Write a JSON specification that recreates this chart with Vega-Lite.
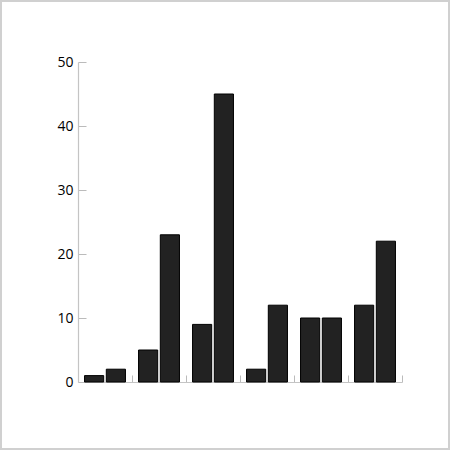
{
  "$schema": "https://vega.github.io/schema/vega-lite/v6.json",
  "width": 448,
  "height": 448,
  "padding": 1,
  "autosize": {"type": "none"},
  "background": "white",
  "data": {
    "values": [
      {"group": "1", "series": "a", "value": 1},
      {"group": "1", "series": "b", "value": 2},
      {"group": "2", "series": "a", "value": 5},
      {"group": "2", "series": "b", "value": 23},
      {"group": "3", "series": "a", "value": 9},
      {"group": "3", "series": "b", "value": 45},
      {"group": "4", "series": "a", "value": 2},
      {"group": "4", "series": "b", "value": 12},
      {"group": "5", "series": "a", "value": 10},
      {"group": "5", "series": "b", "value": 10},
      {"group": "6", "series": "a", "value": 12},
      {"group": "6", "series": "b", "value": 22}
    ]
  },
  "mark": {"type": "bar", "fill": "#222222", "stroke": "#000000", "strokeWidth": 1},
  "encoding": {
    "x": {
      "field": "group",
      "type": "nominal",
      "scale": {"range": [77, 401], "paddingInner": 0, "paddingOuter": 0},
      "axis": {
        "orient": "bottom",
        "offset": -67,
        "domainColor": "#c4c4c4",
        "domainWidth": 1.2,
        "labels": false,
        "title": null,
        "bandPosition": 1,
        "tickSize": -7,
        "tickColor": "#bbbbbb",
        "grid": false
      }
    },
    "xOffset": {
      "field": "series",
      "type": "nominal",
      "scale": {"paddingInner": 0.12, "paddingOuter": 0.3}
    },
    "y": {
      "field": "value",
      "type": "quantitative",
      "scale": {"domain": [0, 50], "range": [381, 61], "nice": false},
      "axis": {
        "values": [0, 10, 20, 30, 40, 50],
        "offset": -77,
        "domainColor": "#c4c4c4",
        "domainWidth": 1.2,
        "grid": false,
        "title": null,
        "tickSize": -8,
        "tickColor": "#bbbbbb",
        "labelPadding": 13,
        "labelFont": "Open Sans",
        "labelFontSize": 14,
        "labelColor": "#000000"
      }
    }
  },
  "config": {
    "view": {"stroke": "#d0d0d0", "strokeWidth": 2}
  }
}
